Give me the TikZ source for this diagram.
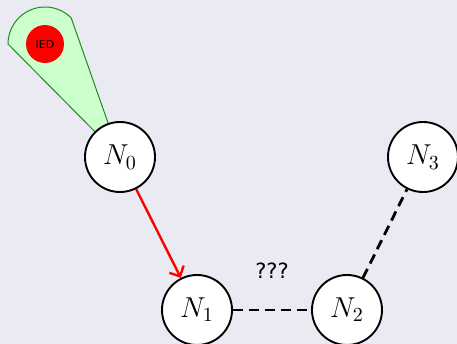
\documentclass[tikz,border=0pt]{standalone}
\usepackage{fontspec}
\newfontfamily\dejavu{DejaVu Sans}
\usetikzlibrary{arrows.meta,calc}
\definecolor{bg}{HTML}{EAEAF2}
\definecolor{wedgefill}{HTML}{CCFFCC}
\definecolor{wedgeline}{HTML}{1E8C1E}
\begin{document}
\begin{tikzpicture}[x=0.5pt,y=0.5pt,
  netnode/.style={circle,draw=black,fill=white,line width=0.95pt,minimum size=35pt,inner sep=0pt,font=\Large},
  wedgeshape/.style={draw=wedgeline,fill=wedgefill,line width=0.5pt},
  iedmark/.style={circle,fill=red,minimum size=19pt,inner sep=0pt,font=\dejavu\fontsize{5.5}{6}\selectfont},
  redarrow/.style={draw=red,line width=1.2pt,-{Straight Barb[length=4pt,width=8pt]}},
  dashlink/.style={draw=black,line width=1.4pt,dash pattern=on 5pt off 3pt},
  qlabel/.style={font=\dejavu\fontsize{10.5}{12}\selectfont,inner sep=0pt}
]
\fill[bg] (0,0) rectangle (457,344);
\useasboundingbox (0,0) rectangle (457,344);
\coordinate (c0) at (120,187);
\coordinate (ic) at (45,300);
\draw[wedgeshape] (c0) -- ($(ic)+(45:37)$) arc[start angle=45,end angle=180,radius=18.5pt] -- cycle;
\node[iedmark] (ied) at (ic) {IED};
\node[netnode] (n0) at (c0) {$N_0$};
\node[netnode] (n1) at (197,34) {$N_1$};
\node[netnode] (n2) at (347,34) {$N_2$};
\node[netnode] (n3) at (423,187) {$N_3$};
\draw[redarrow] (n0) -- (n1);
\draw[dashlink] (n1) -- (n2);
\draw[dashlink] (n2) -- (n3);
\node[qlabel] (q) at (272,73) {???};
\end{tikzpicture}
\end{document}
